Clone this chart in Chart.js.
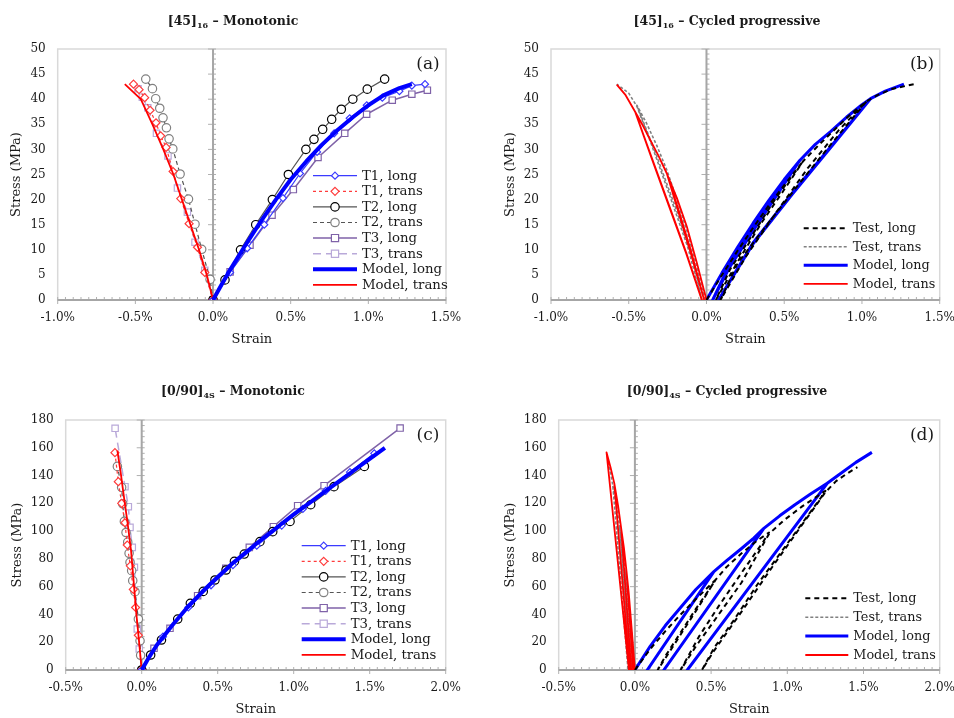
<!DOCTYPE html>
<html>
<head>
<meta charset="utf-8">
<script src="https://cdn.jsdelivr.net/npm/chart.js@4.4.0/dist/chart.umd.min.js"></script>
<style>
body { margin: 0; background: #fff; }
#wrap { position: relative; width: 954px; height: 718px; font-family: "DejaVu Serif", serif; color: #1a1a1a; }
.panel { position: absolute; width: 477px; height: 359px; }
.panel canvas { position: absolute; left: 0; top: 0; }
.ttl { position: absolute; transform: translate(-50%, -50%); font-weight: bold; font-size: 12.5px; white-space: nowrap; }
.ttl sub { font-size: 8px; vertical-align: -3px; }
.lbl { position: absolute; transform: translate(-50%, -50%); font-size: 17px; }
</style>
</head>
<body>
<div id="wrap">
  <div class="panel" style="left:0;top:0">
    <canvas id="ca" width="477" height="359"></canvas>
    <div class="ttl" style="left:233px;top:21px">[45]<sub>16</sub> – Monotonic</div>
    <div class="lbl" style="left:428px;top:63px">(a)</div>
  </div>
  <div class="panel" style="left:477px;top:0">
    <canvas id="cb" width="477" height="359"></canvas>
    <div class="ttl" style="left:250px;top:21px">[45]<sub>16</sub> – Cycled progressive</div>
    <div class="lbl" style="left:445px;top:63px">(b)</div>
  </div>
  <div class="panel" style="left:0;top:359px">
    <canvas id="cc" width="477" height="359"></canvas>
    <div class="ttl" style="left:233px;top:32px">[0/90]<sub>4S</sub> – Monotonic</div>
    <div class="lbl" style="left:428px;top:75px">(c)</div>
  </div>
  <div class="panel" style="left:477px;top:359px">
    <canvas id="cd" width="477" height="359"></canvas>
    <div class="ttl" style="left:250px;top:32px">[0/90]<sub>4S</sub> – Cycled progressive</div>
    <div class="lbl" style="left:445px;top:75px">(d)</div>
  </div>
</div>
<script>
// ---------------- data: [strain %, stress MPa] ----------------
// (a) [45]16 monotonic
const aT1Long = [[0,0],[0.11,5.5],[0.22,10.3],[0.33,15],[0.45,20.3],[0.56,25.2],[0.67,29.5],[0.78,33.2],[0.88,36.2],[0.99,38.8],[1.09,40.3],[1.2,41.6],[1.28,42.7],[1.365,43]];
const aT1Trans = [[0,0],[-0.053,5.5],[-0.1,10.5],[-0.154,15.2],[-0.208,20.2],[-0.257,25.6],[-0.302,30.4],[-0.337,32.7],[-0.367,35.3],[-0.405,37.8],[-0.44,40.3],[-0.476,41.9],[-0.512,43]];
const aT2Long = [[0,0],[0.077,4],[0.177,10],[0.275,15],[0.382,20],[0.485,25],[0.598,30],[0.65,32],[0.706,34],[0.764,36],[0.826,38],[0.9,40],[0.993,42],[1.105,44]];
const aT2Trans = [[0,0],[-0.019,4.1],[-0.073,10.1],[-0.116,15.1],[-0.158,20.1],[-0.212,25.1],[-0.259,30.1],[-0.283,32.1],[-0.3,34.3],[-0.322,36.3],[-0.343,38.2],[-0.369,40.1],[-0.39,42.1],[-0.433,44]];
const aT3Long = [[0,0],[0.11,5.6],[0.238,10.9],[0.38,16.9],[0.517,22],[0.676,28.4],[0.848,33.2],[0.989,37],[1.154,39.8],[1.28,41],[1.38,41.8]];
const aT3Trans = [[0,0],[-0.053,5.9],[-0.116,11.5],[-0.165,17.5],[-0.229,22.3],[-0.29,28.7],[-0.364,33.2],[-0.42,38.3],[-0.455,40.4],[-0.483,42.1]];
const aModelLong = [[0,0],[0.05,2.8],[0.1,5.5],[0.2,10.5],[0.3,15.3],[0.4,19.8],[0.5,24],[0.6,27.6],[0.7,30.9],[0.8,33.8],[0.9,36.4],[1.0,38.8],[1.1,40.8],[1.2,42.2],[1.28,43]];
const aModelTrans = [[0,0],[-0.04,5],[-0.09,10],[-0.145,15],[-0.2,20],[-0.255,25],[-0.32,30],[-0.39,35],[-0.465,40],[-0.568,43]];

// (b) [45]16 cycled progressive
const bTestLong = [[0,0],[0.1,5],[0.2,9.8],[0.3,14.4],[0.4,18.8],[0.5,22.9],[0.62,27.6],
  [0.45,20.5],[0.3,13.2],[0.15,6],[0.06,0],
  [0.2,7.6],[0.35,15.2],[0.5,22],[0.62,27.6],
  [0.72,30.8],[0.82,33.8],[0.92,36.8],[1.03,39.6],
  [0.8,31],[0.6,23.3],[0.4,15.4],[0.2,7.3],[0.09,0],
  [0.25,8.5],[0.45,17.5],[0.65,26.2],[0.85,33.8],[1.03,39.6],
  [1.1,40.8],[1.2,42.1],[1.335,43]];
const bTestTrans = [[-0.01,0],[-0.062,6.6],[-0.12,13.2],[-0.19,20],[-0.255,25.9],[-0.32,30.8],[-0.39,35.5],[-0.448,38.8],
  [-0.33,29.5],[-0.2,18.5],[-0.09,8.5],[-0.03,0],
  [-0.12,10.5],[-0.25,22],[-0.36,31.5],[-0.448,38.6],
  [-0.5,41.2],[-0.577,43]];
const bModelLong = [[0,0],[0.1,5.4],[0.2,10.5],[0.3,15.3],[0.4,19.8],[0.5,24],[0.6,27.8],
  [0.45,21.3],[0.3,14.4],[0.15,7.2],[0.04,0],
  [0.15,6.6],[0.3,13.8],[0.45,20.8],[0.6,27.8],
  [0.7,31],[0.8,33.6],[0.9,36.4],[1.0,38.9],[1.055,40.1],
  [0.8,30.6],[0.55,21.2],[0.3,11.4],[0.077,0],
  [0.3,11.2],[0.55,21],[0.8,30.4],[1.055,40.1],
  [1.15,41.6],[1.27,43]];
const bModelTrans = [[0,0],[-0.06,7.2],[-0.126,14.6],[-0.19,20.3],[-0.255,25.2],
  [-0.18,17.5],[-0.1,9.2],[-0.015,0],
  [-0.1,9.8],[-0.18,18],[-0.255,25.2],
  [-0.31,28.8],[-0.362,31.9],[-0.41,34.8],[-0.459,37.5],
  [-0.35,28],[-0.24,18.6],[-0.13,9.2],[-0.03,0],
  [-0.13,9.4],[-0.24,18.8],[-0.35,28.2],[-0.459,37.5],
  [-0.52,40.8],[-0.577,42.9]];

// (c) [0/90]4S monotonic
const cT1Long = [[0,0],[0.14,24],[0.307,45],[0.456,61],[0.6,75.5],[0.757,89.5],[0.921,104],[1.06,116],[1.21,129],[1.37,142.5],[1.53,156]];
const cT1Trans = [[0,0],[-0.022,25],[-0.04,45],[-0.055,58],[-0.075,75],[-0.095,90],[-0.11,106],[-0.132,120],[-0.154,135.6],[-0.176,156.5]];
const cT2Long = [[0,0],[0.059,10.8],[0.13,21.6],[0.237,36.7],[0.32,48],[0.405,56.6],[0.482,64.8],[0.555,72],[0.61,78.2],[0.675,83.5],[0.778,92.4],[0.862,99.6],[0.976,107],[1.112,119],[1.265,132],[1.465,146.6]];
const cT2Trans = [[0,0],[-0.007,10.6],[-0.011,21],[-0.022,36.7],[-0.044,56.4],[-0.059,64.3],[-0.066,71.5],[-0.077,77.5],[-0.083,84],[-0.092,92],[-0.103,99],[-0.114,107],[-0.125,119.7],[-0.132,131.5],[-0.16,146.6]];
const cT3Long = [[0,0],[0.081,15.6],[0.186,30],[0.368,53.5],[0.553,73.2],[0.708,88.3],[0.866,103.2],[1.026,118.3],[1.2,132.7],[1.7,174.2]];
const cT3Trans = [[0,0],[-0.016,15.1],[-0.029,29.5],[-0.048,74],[-0.062,88.3],[-0.077,102.7],[-0.088,117.6],[-0.11,132],[-0.175,174]];
const cModelLong = [[0,0],[0.05,9.5],[0.1,18],[0.2,32],[0.3,45],[0.4,56.5],[0.5,67],[0.6,77],[0.7,86],[0.8,95],[0.9,103.5],[1.0,112],[1.1,120],[1.2,128],[1.3,136],[1.4,144],[1.5,152],[1.6,160]];
const cModelTrans = [[0,0],[-0.016,19],[-0.033,38],[-0.05,60],[-0.07,86],[-0.093,106],[-0.116,124],[-0.138,142],[-0.16,158]];

// (d) [0/90]4S cycled progressive
const dTestLong = [[0,0],[0.1,15],[0.2,28],[0.3,40],[0.4,51],[0.53,65],
  [0.5,60],[0.4,44],[0.3,27],[0.2,10],[0.15,0],
  [0.25,17],[0.35,34],[0.45,51],[0.53,65],
  [0.6,74],[0.7,84],[0.8,93],[0.88,99],
  [0.84,92],[0.7,70],[0.55,46],[0.42,24],[0.3,0],
  [0.4,17],[0.55,40],[0.7,63],[0.88,98],
  [0.98,108],[1.1,118],[1.25,129],
  [1.22,124],[1.0,91],[0.8,61],[0.65,36],[0.52,16],[0.44,0],
  [0.52,14],[0.7,42],[0.9,74],[1.1,105],[1.25,128],
  [1.32,136],[1.4,142],[1.46,146]];
const dTestTrans = [[0,0],[-0.025,30],[-0.05,60],[-0.065,72],[-0.02,0],[-0.065,72],[-0.085,88],[-0.1,103],[-0.03,0],[-0.1,103],[-0.12,118],[-0.145,133],[-0.045,0],[-0.145,133],[-0.165,145],[-0.18,150]];
const dModelLong = [[0,0],[0.1,17],[0.2,32],[0.3,45],[0.4,58],[0.518,70.8],
  [0.081,0],[0.518,70.8],
  [0.6,78.5],[0.7,87.5],[0.78,95],[0.846,102],
  [0.19,0],[0.846,102],
  [0.95,111],[1.05,119],[1.15,126.5],[1.262,134.4],
  [0.344,0],[1.262,134.4],
  [1.35,141.5],[1.45,149.5],[1.555,156.7]];
const dModelTrans = [[0,0],[-0.02,28],[-0.04,55],[-0.055,71],[-0.012,0],[-0.055,71],[-0.072,88],[-0.09,102],[-0.024,0],[-0.09,102],[-0.11,118],[-0.135,134.4],[-0.034,0],[-0.135,134.4],[-0.16,146],[-0.186,156.7],[-0.039,0]];

// tick values
const xTicksAB = [-1.0, -0.5, 0, 0.5, 1.0, 1.5];
const yTicksAB = [0, 5, 10, 15, 20, 25, 30, 35, 40, 45, 50];
const xTicksCD = [-0.5, 0, 0.5, 1.0, 1.5, 2.0];
const yTicksCD = [0, 20, 40, 60, 80, 100, 120, 140, 160, 180];

// ---------------- styles ----------------
const BLUE = '#0000ff', RED = '#ff0000';
function series(label, pts, s) {
  return Object.assign({
    label, data: pts.map(([x, y]) => ({x, y})), showLine: true, tension: 0,
    borderWidth: 1.2, pointRadius: 0, pointBorderWidth: 1.2, pointBackgroundColor: '#fff',
    borderJoinStyle: 'round', order: 1
  }, s);
}
function monotonicSets(T1L, T1T, T2L, T2T, T3L, T3T, ML, MT) {
  return [
    series('T1, long', T1L, {borderColor: '#3b3bff', pointStyle: 'rectRot', pointRadius: 3.5, pointBorderColor: '#3b3bff'}),
    series('T1, trans', T1T, {borderColor: '#ff3b3b', borderDash: [3, 3], pointStyle: 'rectRot', pointRadius: 4, pointBorderColor: '#ff3b3b'}),
    series('T2, long', T2L, {borderColor: '#555', pointStyle: 'circle', pointRadius: 4.2, pointBorderColor: '#000'}),
    series('T2, trans', T2T, {borderColor: '#555', borderDash: [4, 3], pointStyle: 'circle', pointRadius: 4.2, pointBorderColor: '#808080'}),
    series('T3, long', T3L, {borderColor: '#7f62a8', borderWidth: 1.5, pointStyle: 'rect', pointRadius: 4.5, pointBorderColor: '#7f62a8'}),
    series('T3, trans', T3T, {borderColor: '#b9a9d9', borderWidth: 1.5, borderDash: [8, 5], pointStyle: 'rect', pointRadius: 4.5, pointBorderColor: '#b9a9d9'}),
    series('Model, long', ML, {borderColor: BLUE, borderWidth: 4, order: 0}),
    series('Model, trans', MT, {borderColor: RED, borderWidth: 1.8, order: 0})
  ];
}
function cycledSets(TL, TT, ML, MT) {
  return [
    series('Test, long', TL, {borderColor: '#000', borderWidth: 2, borderDash: [5, 4], order: 0}),
    series('Test, trans', TT, {borderColor: '#808080', borderWidth: 1.6, borderDash: [3, 2], order: 1}),
    series('Model, long', ML, {borderColor: BLUE, borderWidth: 3, order: 1}),
    series('Model, trans', MT, {borderColor: RED, borderWidth: 1.8, order: 0})
  ];
}

// ---------------- plugins ----------------
const axesPlugin = {
  id: 'axes',
  beforeDatasetsDraw(chart, args, o) {
    const {ctx, chartArea: a, scales: {x, y}} = chart;
    const x0 = x.getPixelForValue(0), y0 = y.getPixelForValue(0);
    ctx.save();
    ctx.strokeStyle = '#d9d9d9';
    ctx.lineWidth = 1.5;
    ctx.strokeRect(a.left, a.top, a.right - a.left, a.bottom - a.top);
    ctx.strokeStyle = '#b0b0b0';
    ctx.lineWidth = 1;
    ctx.beginPath();
    for (let v = x.min; v <= x.max + 1e-9; v += o.xMinor) {
      const px = x.getPixelForValue(v);
      ctx.moveTo(px, y0); ctx.lineTo(px, y0 - 3);
    }
    for (let v = y.min; v <= y.max + 1e-9; v += o.yMinor) {
      const py = y.getPixelForValue(v);
      ctx.moveTo(x0, py); ctx.lineTo(x0 + 3, py);
    }
    x.ticks.forEach(t => { const px = x.getPixelForValue(t.value); ctx.moveTo(px, y0); ctx.lineTo(px, y0 + 4); });
    y.ticks.forEach(t => { const py = y.getPixelForValue(t.value); ctx.moveTo(x0, py); ctx.lineTo(x0 - 5, py); });
    ctx.stroke();
    ctx.strokeStyle = '#a6a6a6';
    ctx.lineWidth = 2;
    ctx.beginPath();
    ctx.moveTo(x0, a.top); ctx.lineTo(x0, a.bottom);
    ctx.moveTo(a.left, y0); ctx.lineTo(a.right, y0);
    ctx.stroke();
    ctx.restore();
  }
};

function marker(ctx, style, r, cx, cy) {
  ctx.beginPath();
  if (style === 'circle') ctx.arc(cx, cy, r, 0, Math.PI * 2);
  else if (style === 'rect') ctx.rect(cx - r * 0.8, cy - r * 0.8, r * 1.6, r * 1.6);
  else { ctx.moveTo(cx, cy - r); ctx.lineTo(cx + r, cy); ctx.lineTo(cx, cy + r); ctx.lineTo(cx - r, cy); ctx.closePath(); }
  ctx.fill(); ctx.stroke();
}

const legendPlugin = {
  id: 'boxLegend',
  afterDatasetsDraw(chart, args, o) {
    const ctx = chart.ctx;
    ctx.save();
    chart.data.datasets.forEach((ds, k) => {
      const yy = o.y + k * o.step;
      ctx.save();
      ctx.strokeStyle = ds.borderColor;
      ctx.lineWidth = ds.borderWidth;
      ctx.setLineDash(ds.borderDash || []);
      ctx.beginPath(); ctx.moveTo(o.x, yy); ctx.lineTo(o.x + o.len, yy); ctx.stroke();
      ctx.restore();
      if (ds.pointRadius > 0) {
        ctx.fillStyle = '#fff';
        ctx.strokeStyle = ds.pointBorderColor;
        ctx.lineWidth = ds.pointBorderWidth;
        marker(ctx, ds.pointStyle, ds.pointRadius, o.x + o.len / 2, yy);
      }
      ctx.fillStyle = '#1a1a1a';
      ctx.font = o.font + 'px "DejaVu Serif"';
      ctx.textBaseline = 'middle';
      ctx.fillText(ds.label, o.x + o.len + 5, yy + 0.5);
    });
    ctx.restore();
  }
};

// ---------------- charts ----------------
function makeChart(id, g, xTicks, yTicks, datasets, legend, minor) {
  return new Chart(document.getElementById(id), {
    type: 'scatter',
    data: {datasets},
    options: {
      responsive: false,
      animation: false,
      layout: {padding: {left: 0, top: g.T, right: 477 - g.R, bottom: 0}},
      scales: {
        x: {
          type: 'linear', min: xTicks[0], max: xTicks[xTicks.length - 1],
          grid: {display: false, drawTicks: false}, border: {display: false},
          afterBuildTicks: s => { s.ticks = xTicks.map(v => ({value: v})); },
          afterFit: s => { s.height = 359 - g.B; s.paddingLeft = 0; s.paddingRight = 0; },
          ticks: {padding: 11, maxRotation: 0, autoSkip: false, color: '#1a1a1a', font: {size: 12}, callback: v => v.toFixed(1) + '%'},
          title: {display: true, text: 'Strain', color: '#1a1a1a', font: {size: 13}, padding: {top: 0, bottom: g.xt}}
        },
        y: {
          type: 'linear', min: yTicks[0], max: yTicks[yTicks.length - 1],
          grid: {display: false, drawTicks: false}, border: {display: false},
          afterBuildTicks: s => { s.ticks = yTicks.map(v => ({value: v})); },
          afterFit: s => { s.width = g.L; s.paddingTop = 0; s.paddingBottom = 0; },
          ticks: {padding: 12, autoSkip: false, color: '#1a1a1a', font: {size: 12}, callback: v => String(v)},
          title: {display: true, text: 'Stress (MPa)', color: '#1a1a1a', font: {size: 13}, padding: {top: g.yt, bottom: 0}}
        }
      },
      plugins: {legend: {display: false}, tooltip: {enabled: false}, axes: minor, boxLegend: legend}
    },
    plugins: [axesPlugin, legendPlugin]
  });
}

Chart.defaults.font.family = '"DejaVu Serif", serif';

makeChart('ca', {L: 57.7, T: 49, R: 446, B: 300, xt: 11.2, yt: 9.2}, xTicksAB, yTicksAB,
  monotonicSets(aT1Long, aT1Trans, aT2Long, aT2Trans, aT3Long, aT3Trans, aModelLong, aModelTrans),
  {x: 313, y: 175.7, step: 15.6, len: 44, font: 13.3}, {xMinor: 0.05, yMinor: 1});

makeChart('cb', {L: 74, T: 49, R: 462.7, B: 300, xt: 11.2, yt: 25.5}, xTicksAB, yTicksAB,
  cycledSets(bTestLong, bTestTrans, bModelLong, bModelTrans),
  {x: 326.7, y: 228.3, step: 18.5, len: 44, font: 12.8}, {xMinor: 0.05, yMinor: 1});

makeChart('cc', {L: 65.7, T: 61, R: 445.7, B: 311, xt: 0.2, yt: 9.5}, xTicksCD, yTicksCD,
  monotonicSets(cT1Long, cT1Trans, cT2Long, cT2Trans, cT3Long, cT3Trans, cModelLong, cModelTrans),
  {x: 301.7, y: 186.7, step: 15.6, len: 44, font: 13.3}, {xMinor: 0.05, yMinor: 4});

makeChart('cd', {L: 81.7, T: 61, R: 462.7, B: 311, xt: 0.2, yt: 25.5}, xTicksCD, yTicksCD,
  cycledSets(dTestLong, dTestTrans, dModelLong, dModelTrans),
  {x: 328.3, y: 239.3, step: 18.9, len: 43, font: 12.8}, {xMinor: 0.05, yMinor: 4});
</script>
</body>
</html>
